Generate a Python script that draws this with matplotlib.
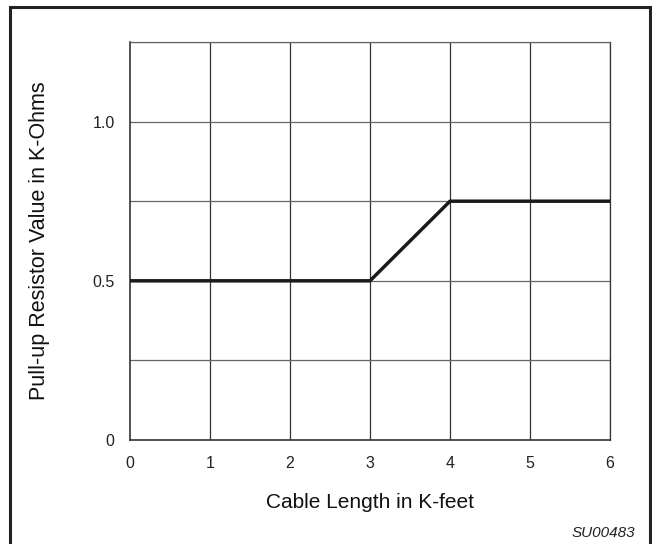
import matplotlib
matplotlib.use("Agg")
import matplotlib.pyplot as plt
from matplotlib.patches import Rectangle

cable_length = [0, 3, 4, 6]
resistor_value = [0.5, 0.5, 0.75, 0.75]
x_ticks = [0, 1, 2, 3, 4, 5, 6]
y_grid = [0, 0.25, 0.5, 0.75, 1.0, 1.25]
y_tick_labels = {0: "0", 0.5: "0.5", 1.0: "1.0"}

plt.rcParams['font.family'] = ['Liberation Sans', 'DejaVu Sans']
W, H = 652, 544
fig = plt.figure(figsize=(W/100, H/100), dpi=100)
ax = fig.add_axes([130/W, (H-440)/H, 480/W, 398/H])

ax.set_xlim(0, 6)
ax.set_ylim(0, 1.25)
for x in x_ticks[1:]:
    ax.axvline(x, color='#333333', lw=0.9, zorder=1)
for y in y_grid[1:]:
    ax.axhline(y, color='#666666', lw=0.9, zorder=1)

ax.plot(cable_length, resistor_value, color='#1a1a1a', lw=2.5, solid_capstyle='butt', zorder=3)

ax.set_xticks(x_ticks)
ax.set_xticklabels([str(v) for v in x_ticks])
ax.set_yticks(list(y_tick_labels.keys()))
ax.set_yticklabels(list(y_tick_labels.values()))
ax.tick_params(axis='both', length=0, labelsize=11.5, colors='#222222')
ax.tick_params(axis='x', pad=11.5)
ax.tick_params(axis='y', pad=11)

for s in ['left', 'bottom']:
    ax.spines[s].set_color('#333333')
    ax.spines[s].set_linewidth(1.2)
ax.spines['top'].set_color('#666666')
ax.spines['right'].set_color('#333333')
ax.spines['top'].set_linewidth(0.9)
ax.spines['right'].set_linewidth(0.9)

fig.text(370/W, (H-502)/H, "Cable Length in K-feet", fontsize=15, ha='center', va='center', color='#111111')
fig.text(40/W, (H-241)/H, "Pull-up Resistor Value in K-Ohms", fontsize=15.5, rotation=90,
         ha='center', va='center', color='#111111')

fig.text(635/W, (H-533)/H, "SU00483", fontsize=11, style='italic', ha='right', va='center', color='#222222')

fig.patches.append(Rectangle((10/W, -0.05), 640/W, (H-7)/H + 0.05, transform=fig.transFigure,
                             fill=False, edgecolor='#222222', lw=2.2))

fig.savefig("out.png", dpi=100)
